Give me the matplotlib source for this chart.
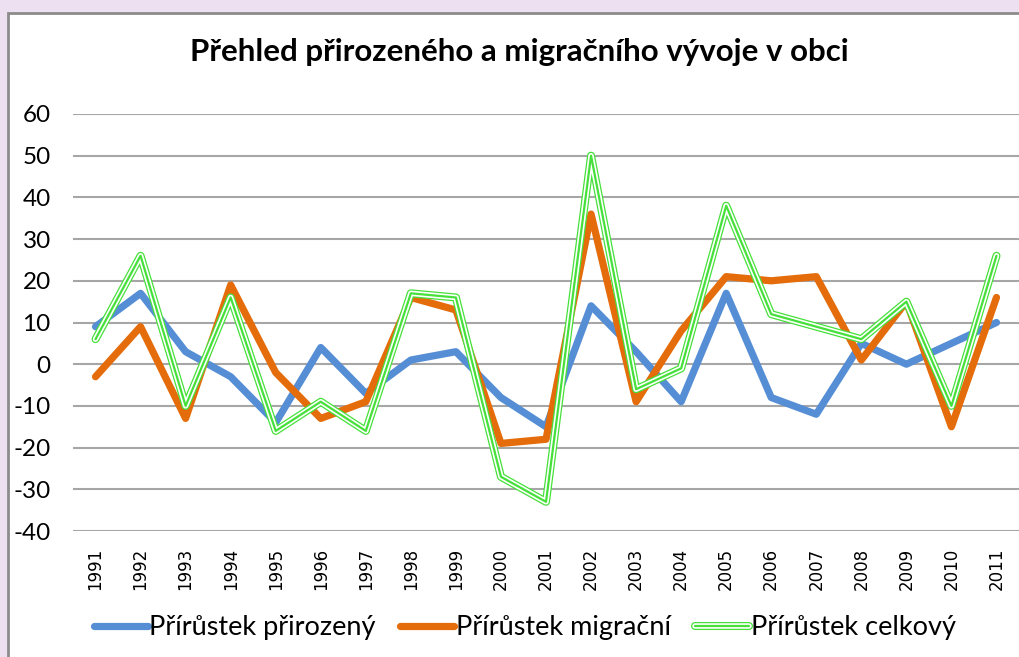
#!/usr/bin/env python3
"""Přehled přirozeného a migračního vývoje v obci – line chart recreation."""

import matplotlib.pyplot as plt
import numpy as np
from matplotlib.patches import Rectangle

# ---------------------------------------------------------------------------
# Data
# ---------------------------------------------------------------------------
YEARS = [str(y) for y in range(1991, 2012)]
PRIROZENY = [9, 17, 3, -3, -14, 4, -7, 1, 3, -8, -15, 14, 3, -9, 17, -8, -12, 5, 0, 5, 10]
MIGRACNI = [-3, 9, -13, 19, -2, -13, -9, 16, 13, -19, -18, 36, -9, 8, 21, 20, 21, 1, 15, -15, 16]
CELKOVY = [6, 26, -10, 16, -16, -9, -16, 17, 16, -27, -33, 50, -6, -1, 38, 12, 9, 6, 15, -10, 26]
LABELS = ["Přírůstek přirozený", "Přírůstek migrační", "Přírůstek celkový"]
TITLE = "Přehled přirozeného a migračního vývoje v obci"

# ---------------------------------------------------------------------------
# Style
# ---------------------------------------------------------------------------
BLUE = "#558ED5"
ORANGE = "#E46C0A"
GREEN = "#46E03A"
LAVENDER = "#EDE0F0"
BORDER = "#8C8C8C"
GRID = "#A6A6A6"

plt.rcParams["font.family"] = ["Lato", "DejaVu Sans"]
plt.rcParams["axes.unicode_minus"] = False

W, H = 1019, 657
fig = plt.figure(figsize=(W / 100, H / 100), dpi=100, facecolor=LAVENDER)

# white chart area with grey border on left/top
fig.patches.append(Rectangle((8 / W, -0.1), 1.2, 1 - 13 / H + 0.1,
                             transform=fig.transFigure, facecolor="white",
                             edgecolor=BORDER, linewidth=2.0, zorder=-5))

ax = fig.add_axes([73 / W, 1 - 531 / H, 1 - 73 / W, (531 - 114) / H])
ax.set_zorder(2)
ax.set_facecolor("none")
x = np.arange(len(YEARS))

ax.plot(x, PRIROZENY, color=BLUE, lw=5.2, solid_capstyle="round",
        solid_joinstyle="round", zorder=3)
ax.plot(x, MIGRACNI, color=ORANGE, lw=5.2, solid_capstyle="round",
        solid_joinstyle="round", zorder=4)
# triple compound line for the total
ax.plot(x, CELKOVY, color=GREEN, lw=5.8, solid_capstyle="round",
        solid_joinstyle="round", zorder=5)
ax.plot(x, CELKOVY, color="white", lw=4.0, solid_capstyle="round",
        solid_joinstyle="round", zorder=6)
ax.plot(x, CELKOVY, color=GREEN, lw=1.6, solid_capstyle="round",
        solid_joinstyle="round", zorder=7)

ax.set_xlim(-0.5, len(YEARS) - 0.5)
ax.set_ylim(-40, 60)
ax.set_yticks(range(-40, 61, 10))
ax.yaxis.grid(True, color=GRID, lw=1.5)
ax.set_axisbelow(True)
for s in ax.spines.values():
    s.set_visible(False)

ax.set_xticks(x)
ax.set_xticklabels(YEARS, rotation=90, fontsize=12, family="DejaVu Sans")
ax.tick_params(axis="x", length=0, pad=12)
ax.tick_params(axis="y", length=0, pad=16, labelsize=17.5)

fig.text(519 / W, 1 - 52 / H, TITLE, ha="center", va="center",
         fontsize=22.5, fontweight="bold", zorder=3)

# legend
handles = [
    plt.Line2D([], [], color=BLUE, lw=5.2, solid_capstyle="round"),
    plt.Line2D([], [], color=ORANGE, lw=5.2, solid_capstyle="round"),
    (plt.Line2D([], [], color=GREEN, lw=5.8, solid_capstyle="round"),
     plt.Line2D([], [], color="white", lw=4.0, solid_capstyle="round"),
     plt.Line2D([], [], color=GREEN, lw=1.6, solid_capstyle="round")),
]
leg = fig.legend(handles, LABELS, loc="center", bbox_to_anchor=(0.515, 1 - 628 / H),
                 ncol=3, frameon=False, fontsize=19.5, handlelength=2.0,
                 handletextpad=0.05, columnspacing=0.9)
leg.set_zorder(3)

fig.savefig("out.png", dpi=100, facecolor=LAVENDER)
